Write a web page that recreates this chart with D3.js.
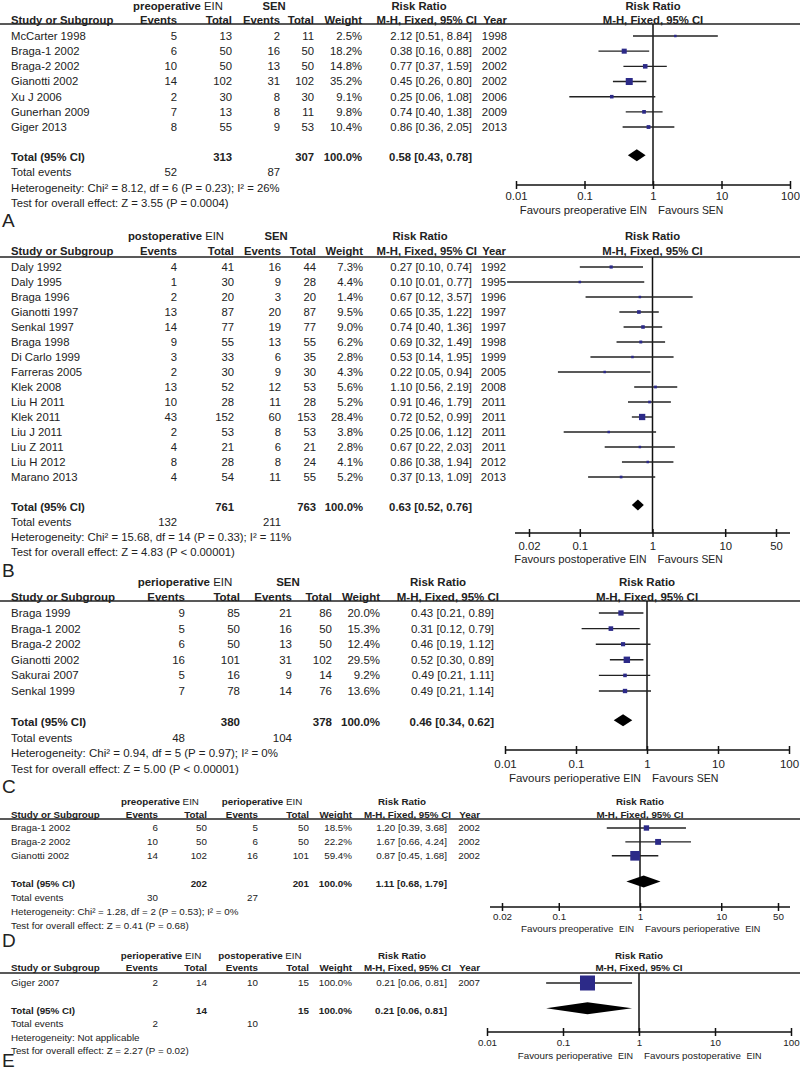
<!DOCTYPE html>
<html><head><meta charset="utf-8">
<script src="https://cdn.jsdelivr.net/npm/d3@7"></script>
<style>
body{margin:0;background:#fff}
svg{display:block}
text{font-family:"Liberation Sans",Arial,Helvetica,sans-serif;fill:#222}
</style>
</head><body>
<svg id="chart" width="800" height="1077"></svg>
<script>
// ---------------- Panel A: preoperative EIN vs SEN ----------------
const studiesA = ["McCarter 1998","Braga-1 2002","Braga-2 2002","Gianotti 2002","Xu J 2006","Gunerhan 2009","Giger 2013"];
const evExpA = [5,6,10,14,2,7,8];
const totExpA = [13,50,50,102,30,13,55];
const evCtlA = [2,16,13,31,8,8,9];
const totCtlA = [11,50,50,102,30,11,53];
const weightA = [2.5,18.2,14.8,35.2,9.1,9.8,10.4];
const rrA = [2.12,0.38,0.77,0.45,0.25,0.74,0.86];
const loA = [0.51,0.16,0.37,0.26,0.06,0.40,0.36];
const hiA = [8.84,0.88,1.59,0.80,1.08,1.38,2.05];
const yearA = [1998,2002,2002,2002,2006,2009,2013];
const totalA = [313,307,100.0,0.58,0.43,0.78,52,87];
const groupsA = ["preoperative EIN","SEN"];
const favA = ["Favours preoperative EIN","Favours SEN"];
const hetA = "Heterogeneity: Chi² = 8.12, df = 6 (P = 0.23); I² = 26%";
const testA = "Test for overall effect: Z = 3.55 (P = 0.0004)";
const ticksA = [0.01,0.1,1,10,100];

// ---------------- Panel B: postoperative EIN vs SEN ----------------
const studiesB = ["Daly 1992","Daly 1995","Braga 1996","Gianotti 1997","Senkal 1997","Braga 1998","Di Carlo 1999","Farreras 2005","Klek 2008","Liu H 2011","Klek 2011","Liu J 2011","Liu Z 2011","Liu H 2012","Marano 2013"];
const evExpB = [4,1,2,13,14,9,3,2,13,10,43,2,4,8,4];
const totExpB = [41,30,20,87,77,55,33,30,52,28,152,53,21,28,54];
const evCtlB = [16,9,3,20,19,13,6,9,12,11,60,8,6,8,11];
const totCtlB = [44,28,20,87,77,55,35,30,53,28,153,53,21,24,55];
const weightB = [7.3,4.4,1.4,9.5,9.0,6.2,2.8,4.3,5.6,5.2,28.4,3.8,2.8,4.1,5.2];
const rrB = [0.27,0.10,0.67,0.65,0.74,0.69,0.53,0.22,1.10,0.91,0.72,0.25,0.67,0.86,0.37];
const loB = [0.10,0.01,0.12,0.35,0.40,0.32,0.14,0.05,0.56,0.46,0.52,0.06,0.22,0.38,0.13];
const hiB = [0.74,0.77,3.57,1.22,1.36,1.49,1.95,0.94,2.19,1.79,0.99,1.12,2.03,1.94,1.09];
const yearB = [1992,1995,1996,1997,1997,1998,1999,2005,2008,2011,2011,2011,2011,2012,2013];
const totalB = [761,763,100.0,0.63,0.52,0.76,132,211];
const groupsB = ["postoperative EIN","SEN"];
const favB = ["Favours postoperative EIN","Favours SEN"];
const hetB = "Heterogeneity: Chi² = 15.68, df = 14 (P = 0.33); I² = 11%";
const testB = "Test for overall effect: Z = 4.83 (P < 0.00001)";
const ticksB = [0.02,0.1,1,10,50];

// ---------------- Panel C: perioperative EIN vs SEN ----------------
const studiesC = ["Braga 1999","Braga-1 2002","Braga-2 2002","Gianotti 2002","Sakurai 2007","Senkal 1999"];
const evExpC = [9,5,6,16,5,7];
const totExpC = [85,50,50,101,16,78];
const evCtlC = [21,16,13,31,9,14];
const totCtlC = [86,50,50,102,14,76];
const weightC = [20.0,15.3,12.4,29.5,9.2,13.6];
const rrC = [0.43,0.31,0.46,0.52,0.49,0.49];
const loC = [0.21,0.12,0.19,0.30,0.21,0.21];
const hiC = [0.89,0.79,1.12,0.89,1.11,1.14];
const yearC = null;
const totalC = [380,378,100.0,0.46,0.34,0.62,48,104];
const groupsC = ["perioperative EIN","SEN"];
const favC = ["Favours perioperative EIN","Favours SEN"];
const hetC = "Heterogeneity: Chi² = 0.94, df = 5 (P = 0.97); I² = 0%";
const testC = "Test for overall effect: Z = 5.00 (P < 0.00001)";
const ticksC = [0.01,0.1,1,10,100];

// ---------------- Panel D: preoperative vs perioperative EIN ----------------
const studiesD = ["Braga-1 2002","Braga-2 2002","Gianotti 2002"];
const evExpD = [6,10,14];
const totExpD = [50,50,102];
const evCtlD = [5,6,16];
const totCtlD = [50,50,101];
const weightD = [18.5,22.2,59.4];
const rrD = [1.20,1.67,0.87];
const loD = [0.39,0.66,0.45];
const hiD = [3.68,4.24,1.68];
const yearD = [2002,2002,2002];
const totalD = [202,201,100.0,1.11,0.68,1.79,30,27];
const groupsD = ["preoperative EIN","perioperative EIN"];
const favD = ["Favours preoperative  EIN","Favours perioperative  EIN"];
const hetD = "Heterogeneity: Chi² = 1.28, df = 2 (P = 0.53); I² = 0%";
const testD = "Test for overall effect: Z = 0.41 (P = 0.68)";
const ticksD = [0.02,0.1,1,10,50];

// ---------------- Panel E: perioperative vs postoperative EIN ----------------
const studiesE = ["Giger 2007"];
const evExpE = [2];
const totExpE = [14];
const evCtlE = [10];
const totCtlE = [15];
const weightE = [100.0];
const rrE = [0.21];
const loE = [0.06];
const hiE = [0.81];
const yearE = [2007];
const totalE = [14,15,100.0,0.21,0.06,0.81,2,10];
const groupsE = ["perioperative EIN","postoperative EIN"];
const favE = ["Favours perioperative  EIN","Favours postoperative  EIN"];
const hetE = "Heterogeneity: Not applicable";
const testE = "Test for overall effect: Z = 2.27 (P = 0.02)";
const ticksE = [0.01,0.1,1,10,100];

const svg = d3.select("#chart");

const panels = [
  {letter:"A", studies:studiesA, e1:evExpA, n1:totExpA, e2:evCtlA, n2:totCtlA, w:weightA, rr:rrA, lo:loA, hi:hiA, year:yearA, total:totalA, groups:groupsA, fav:favA, het:hetA, test:testA, ticks:ticksA,
   L:{fs:11.3, favFs:11.3, row0:36, step:15.17, h1:6, h2:20, line:24, c:[177,232,280,314,362], rrEnd:472, yearEnd:507, mhEnd:477, rrHead:419, g1:178, g2:274,
      dom:[0.01,100], rng:[516,790], axLine:[516,790], axisY:185, tickDy:11, favDy:25, letterY:227, sq:1.18, dh:6}},
  {letter:"B", studies:studiesB, e1:evExpB, n1:totExpB, e2:evCtlB, n2:totCtlB, w:weightB, rr:rrB, lo:loB, hi:hiB, year:yearB, total:totalB, groups:groupsB, fav:favB, het:hetB, test:testB, ticks:ticksB,
   L:{fs:11.3, favFs:11.3, row0:267, step:15, h1:236, h2:251.5, line:257, c:[177,234,281,316,363], rrEnd:472, yearEnd:506, mhEnd:477, rrHead:420, g1:176, g2:276,
      dom:[0.02,50], rng:[529,776], axLine:[515,790], axisY:533, tickDy:13, favDy:26, letterY:577, sq:1.18, dh:5.5}},
  {letter:"C", studies:studiesC, e1:evExpC, n1:totExpC, e2:evCtlC, n2:totCtlC, w:weightC, rr:rrC, lo:loC, hi:hiC, year:yearC, total:totalC, groups:groupsC, fav:favC, het:hetC, test:testC, ticks:ticksC,
   L:{fs:11.5, favFs:11.5, row0:613, step:15.6, h1:582, h2:597, line:601, c:[185,240,292,332,380], rrEnd:494, yearEnd:null, mhEnd:499, rrHead:438, g1:185, g2:288,
      dom:[0.01,100], rng:[505,789], axLine:[505,789], axisY:750, tickDy:14, favDy:28, letterY:793, sq:1.18, dh:6}},
  {letter:"D", studies:studiesD, e1:evExpD, n1:totExpD, e2:evCtlD, n2:totCtlD, w:weightD, rr:rrD, lo:loD, hi:hiD, year:yearD, total:totalD, groups:groupsD, fav:favD, het:hetD, test:testD, ticks:ticksD,
   L:{fs:9.8, favFs:9.8, row0:828, step:13.9, h1:802, h2:815, line:819, c:[158,207,258,309,352], rrEnd:447, yearEnd:480, mhEnd:451, rrHead:402, g1:160, g2:262,
      dom:[0.02,50], rng:[502,778], axLine:[490,790], axisY:907, tickDy:10, favDy:22, letterY:947, sq:1.25, dh:6}},
  {letter:"E", studies:studiesE, e1:evExpE, n1:totExpE, e2:evCtlE, n2:totCtlE, w:weightE, rr:rrE, lo:loE, hi:hiE, year:yearE, total:totalE, groups:groupsE, fav:favE, het:hetE, test:testE, ticks:ticksE,
   L:{fs:9.8, favFs:9.8, row0:983, step:13.6, h1:956, h2:968, line:973, c:[158,207,258,309,352], rrEnd:447, yearEnd:480, mhEnd:451, rrHead:402, g1:161, g2:260,
      dom:[0.01,100], rng:[487,791], axLine:[487,791], axisY:1032, tickDy:11, favDy:24, letterY:1067, sq:1.5, dh:6}}
];

const fmtCI = (r,l,h) => r.toFixed(2)+" ["+l.toFixed(2)+", "+h.toFixed(2)+"]";

function drawPanel(p){
  const L = p.L;
  const g = svg.append("g").attr("font-size", L.fs);
  const y = d3.scaleLinear().domain([0,1]).range([L.row0, L.row0+L.step]);
  const x = d3.scaleLog().domain(L.dom).range(L.rng);
  const x1 = x(1);
  const T = (xx, yy, s, anchor, bold) => g.append("text").attr("x", xx).attr("y", yy).attr("dy","0.35em")
      .attr("text-anchor", anchor || "start").attr("font-weight", bold ? "bold" : "normal").text(s);

  [L.g1, L.g2].forEach((gx, k) => {
    const lab = p.groups[k];
    const t = g.append("text").attr("x", gx).attr("y", L.h1).attr("dy","0.35em").attr("text-anchor","middle");
    if (lab.endsWith(" EIN")) {
      t.append("tspan").attr("font-weight","bold").text(lab.slice(0,-4)+" ");
      t.append("tspan").attr("font-weight","normal").text("EIN");
    } else {
      t.append("tspan").attr("font-weight","bold").text(lab);
    }
  });
  T(L.rrHead, L.h1, "Risk Ratio", "middle", true);
  T(x1, L.h1, "Risk Ratio", "middle", true);

  T(11, L.h2, "Study or Subgroup", "start", true);
  T(L.c[0], L.h2, "Events", "end", true);
  T(L.c[1], L.h2, "Total", "end", true);
  T(L.c[2], L.h2, "Events", "end", true);
  T(L.c[3], L.h2, "Total", "end", true);
  T(L.c[4], L.h2, "Weight", "end", true);
  T(L.mhEnd, L.h2, "M-H, Fixed, 95% CI", "end", true);
  if (L.yearEnd) T(L.yearEnd, L.h2, "Year", "end", true);
  T(x1, L.h2, "M-H, Fixed, 95% CI", "middle", true);

  g.append("line").attr("x1",0).attr("x2",800).attr("y1",L.line).attr("y2",L.line)
    .attr("stroke","#222").attr("stroke-width",1.4);

  p.studies.forEach((s, i) => {
    const yy = y(i);
    T(11, yy, s);
    T(L.c[0], yy, p.e1[i], "end");
    T(L.c[1], yy, p.n1[i], "end");
    T(L.c[2], yy, p.e2[i], "end");
    T(L.c[3], yy, p.n2[i], "end");
    T(L.c[4], yy, p.w[i].toFixed(1)+"%", "end");
    T(L.rrEnd, yy, fmtCI(p.rr[i], p.lo[i], p.hi[i]), "end");
    if (p.year) T(L.yearEnd, yy, p.year[i], "end");
  });

  const n = p.studies.length;
  const tY = y(n+1), eY = y(n+2), hY = y(n+3), zY = y(n+4);
  const tot = p.total;
  T(11, tY, "Total (95% CI)", "start", true);
  T(L.c[1], tY, tot[0], "end", true);
  T(L.c[3], tY, tot[1], "end", true);
  T(L.c[4], tY, tot[2].toFixed(1)+"%", "end", true);
  T(L.rrEnd, tY, fmtCI(tot[3], tot[4], tot[5]), "end", true);
  T(11, eY, "Total events");
  T(L.c[0], eY, tot[6], "end");
  T(L.c[2], eY, tot[7], "end");
  T(11, hY, p.het);
  T(11, zY, p.test);

  g.append("line").attr("x1",x1).attr("x2",x1).attr("y1",L.line).attr("y2",L.axisY)
    .attr("stroke","#111").attr("stroke-width",1.5);

  g.selectAll(".ci").data(p.studies).enter().append("line")
    .attr("x1",(d,i)=>x(p.lo[i])).attr("x2",(d,i)=>x(p.hi[i]))
    .attr("y1",(d,i)=>y(i)).attr("y2",(d,i)=>y(i))
    .attr("stroke","#222").attr("stroke-width",1.4);
  const side = i => Math.max(2.5, L.sq*Math.sqrt(p.w[i]));
  g.selectAll(".sq").data(p.studies).enter().append("rect")
    .attr("x",(d,i)=>x(p.rr[i]) - side(i)/2)
    .attr("y",(d,i)=>y(i) - side(i)/2)
    .attr("width",(d,i)=>side(i))
    .attr("height",(d,i)=>side(i))
    .attr("fill","#2c2a88");

  const dy = tY - 2;
  g.append("path")
    .attr("d", `M${x(tot[4])},${dy} L${x(tot[3])},${dy-L.dh} L${x(tot[5])},${dy} L${x(tot[3])},${dy+L.dh} Z`)
    .attr("fill","#000");

  g.append("line").attr("x1",L.axLine[0]).attr("x2",L.axLine[1]).attr("y1",L.axisY).attr("y2",L.axisY)
    .attr("stroke","#111").attr("stroke-width",1.5);
  const axis = d3.axisBottom(x).tickValues(p.ticks).tickFormat(d => String(d)).tickSizeInner(0).tickSizeOuter(0);
  const ag = g.append("g").attr("transform",`translate(0,${L.axisY})`).call(axis);
  ag.attr("font-family",null).attr("font-size",null);
  ag.select(".domain").remove();
  ag.selectAll(".tick line").attr("y1",-4).attr("y2",4).attr("stroke","#111").attr("stroke-width",1.5);
  ag.selectAll(".tick text").attr("y",L.tickDy).attr("dy","0.35em").attr("fill","#222");

  const favY = L.axisY + L.favDy;
  [[p.fav[0], x1-6, "end"], [p.fav[1], x1+5, "start"]].forEach(([lab, fx, anc]) => {
    const idx = lab.lastIndexOf(" ");
    const t = g.append("text").attr("x",fx).attr("y",favY).attr("dy","0.35em").attr("text-anchor",anc)
      .attr("font-size", L.favFs).style("white-space","pre");
    t.append("tspan").text(lab.slice(0, idx+1));
    t.append("tspan").attr("font-size", L.favFs*0.92).text(lab.slice(idx+1));
  });

  svg.append("text").attr("x",2).attr("y",L.letterY).attr("font-size",19).text(p.letter);
}

panels.forEach(drawPanel);
</script>
</body></html>
